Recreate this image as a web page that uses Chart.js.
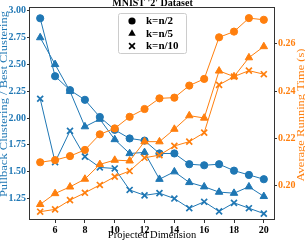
<!DOCTYPE html>
<html><head><meta charset="utf-8">
<script src="https://cdn.jsdelivr.net/npm/chart.js@4.4.0/dist/chart.umd.min.js"></script>
<style>html,body{margin:0;padding:0;background:#fff;}</style>
</head><body>
<canvas id="c" width="305" height="242"></canvas>
<script>
// ---- data ----
const dims = [5, 6, 7, 8, 9, 10, 11, 12, 13, 14, 15, 16, 17, 18, 19, 20];
const ratioHalf  = [2.93, 2.39, 2.26, 2.17, 2.01, 1.89, 1.81, 1.79, 1.67, 1.67, 1.57, 1.56, 1.57, 1.51, 1.47, 1.43];
const ratioFifth = [2.75, 2.50, 2.25, 1.92, 1.99, 1.80, 1.67, 1.68, 1.43, 1.50, 1.40, 1.36, 1.31, 1.30, 1.36, 1.27];
const ratioTenth = [2.18, 1.59, 1.88, 1.64, 1.54, 1.53, 1.33, 1.28, 1.30, 1.25, 1.16, 1.22, 1.13, 1.21, 1.16, 1.11];
const timeHalf   = [0.2100, 0.2109, 0.2126, 0.2152, 0.2218, 0.2243, 0.2292, 0.2325, 0.2370, 0.2373, 0.2424, 0.2452, 0.2628, 0.2652, 0.2709, 0.2702];
const timeFifth  = [0.1922, 0.1968, 0.1996, 0.2029, 0.2091, 0.2109, 0.2106, 0.2187, 0.2187, 0.2240, 0.2297, 0.2287, 0.2486, 0.2462, 0.2542, 0.2589];
const timeTenth  = [0.1891, 0.1901, 0.1940, 0.1971, 0.2004, 0.2039, 0.2063, 0.2119, 0.2130, 0.2169, 0.2187, 0.2225, 0.2427, 0.2462, 0.2487, 0.2472];
const seriesLabels = ['k=n/2', 'k=n/5', 'k=n/10'];
const xTicks = [6, 8, 10, 12, 14, 16, 18, 20];
const yTicks = [1.25, 1.50, 1.75, 2.00, 2.25, 2.50, 2.75, 3.00];
const y2Ticks = [0.20, 0.22, 0.24, 0.26];
const titleText = "MNIST '2' Dataset";
const xLabel = 'Projected Dimension';
const yLabel = 'Pullback Clustering / Best Clustering';
const y2Label = 'Average Running Time (s)';

const SERIF = '"Liberation Serif", "DejaVu Serif", serif';
const BLUE = '#1f77b4', ORANGE = '#ff7f0e';
const pts = arr => dims.map((d, i) => ({x: d, y: arr[i]}));
const styles = ['circle', 'triangle', 'crossRot'];
const radii = [3.6, 4.3, 4.2];

function ds(arr, i, color, axis, order) {
  return {
    label: seriesLabels[i], data: pts(arr), yAxisID: axis, order: order,
    borderColor: color, backgroundColor: color, borderWidth: 1,
    pointStyle: styles[i], pointRadius: radii[i],
    pointBorderWidth: styles[i] === 'crossRot' ? 1.7 : 1,
    pointBackgroundColor: color, pointBorderColor: color,
    tension: 0, fill: false
  };
}

const boxPlugin = {
  id: 'box',
  afterDatasetsDraw(chart) {
    const {ctx, chartArea: a} = chart;
    ctx.save();
    ctx.strokeStyle = '#333'; ctx.lineWidth = 1;
    ctx.strokeRect(Math.round(a.left) + 0.5, Math.round(a.top) + 0.5,
                   Math.round(a.right - a.left) - 1, Math.round(a.bottom - a.top) - 1);
    ctx.restore();
  }
};

// vertical axis titles (stretched along text direction like the reference)
function vText(ctx, text, x, y, color, rot) {
  ctx.save();
  ctx.translate(x, y);
  ctx.rotate(rot);
  ctx.scale(1.17, 1);
  ctx.font = '10.7px ' + SERIF;
  ctx.fillStyle = color;
  ctx.textAlign = 'center'; ctx.textBaseline = 'middle';
  ctx.fillText(text, 0, 0);
  ctx.restore();
}
const sideTitles = {
  id: 'sideTitles',
  afterDraw(chart) {
    const {ctx} = chart;
    vText(ctx, yLabel, 4, 104, BLUE, -Math.PI / 2);
    vText(ctx, y2Label, 301, 115, ORANGE, -Math.PI / 2);
  }
};

const legendPlugin = {
  id: 'customLegend',
  afterDraw(chart) {
    const {ctx} = chart;
    ctx.save();
    const bx = 118.5, by = 13.5, bw = 68, bh = 40, r = 2;
    ctx.beginPath();
    ctx.moveTo(bx + r, by); ctx.lineTo(bx + bw - r, by); ctx.arcTo(bx + bw, by, bx + bw, by + r, r);
    ctx.lineTo(bx + bw, by + bh - r); ctx.arcTo(bx + bw, by + bh, bx + bw - r, by + bh, r);
    ctx.lineTo(bx + r, by + bh); ctx.arcTo(bx, by + bh, bx, by + bh - r, r);
    ctx.lineTo(bx, by + r); ctx.arcTo(bx, by, bx + r, by, r); ctx.closePath();
    ctx.fillStyle = 'rgba(255,255,255,0.85)'; ctx.fill();
    ctx.strokeStyle = '#cccccc'; ctx.lineWidth = 1; ctx.stroke();
    const rows = [21, 33.5, 46];
    ctx.fillStyle = '#000'; ctx.strokeStyle = '#000';
    ctx.beginPath(); ctx.arc(132, rows[0], 3.6, 0, Math.PI * 2); ctx.fill();
    const t = 4.3;
    ctx.beginPath();
    ctx.moveTo(132, rows[1] - t); ctx.lineTo(132 + t * 0.866, rows[1] + t * 0.5); ctx.lineTo(132 - t * 0.866, rows[1] + t * 0.5);
    ctx.closePath(); ctx.fill();
    ctx.lineWidth = 1.7; const c = 2.9;
    ctx.beginPath();
    ctx.moveTo(132 - c, rows[2] - c); ctx.lineTo(132 + c, rows[2] + c);
    ctx.moveTo(132 + c, rows[2] - c); ctx.lineTo(132 - c, rows[2] + c);
    ctx.stroke();
    ctx.font = 'bold 11px ' + SERIF;
    ctx.textAlign = 'left'; ctx.textBaseline = 'middle';
    seriesLabels.forEach((l, i) => ctx.fillText(l, 146, rows[i] + 0.5));
    ctx.restore();
  }
};

const tickFont = {family: SERIF, size: 10, weight: 'bold'};
const setTicks = vals => axis => { axis.ticks = vals.map(v => ({value: v})); };

new Chart(document.getElementById('c'), {
  type: 'line',
  data: {
    datasets: [
      ds(ratioHalf, 0, BLUE, 'y', 2), ds(ratioFifth, 1, BLUE, 'y', 2), ds(ratioTenth, 2, BLUE, 'y', 2),
      ds(timeHalf, 0, ORANGE, 'y2', 1), ds(timeFifth, 1, ORANGE, 'y2', 1), ds(timeTenth, 2, ORANGE, 'y2', 1)
    ]
  },
  options: {
    responsive: false, animation: false, devicePixelRatio: 1,
    layout: {padding: 0},
    plugins: {
      legend: {display: false}, tooltip: {enabled: false},
      title: {display: true, text: titleText, color: '#000',
              font: {family: SERIF, size: 10, weight: 'bold'}, padding: {top: -3, bottom: -2}}
    },
    scales: {
      x: {
        type: 'linear', min: 4.25, max: 20.75,
        afterBuildTicks: setTicks(xTicks),
        afterFit: s => { s.height = 22; },
        ticks: {font: tickFont, color: '#000', padding: 1, maxRotation: 0, autoSkip: false},
        grid: {drawOnChartArea: false, drawTicks: true, tickLength: 3, color: '#333'},
        border: {display: false},
        title: {display: true, text: xLabel, color: '#000', font: {family: SERIF, size: 10.5}, padding: {top: 0, bottom: 0}}
      },
      y: {
        type: 'linear', position: 'left', min: 1.05, max: 3.035,
        afterBuildTicks: setTicks(yTicks),
        afterFit: s => { s.width = 29; },
        ticks: {font: tickFont, color: BLUE, padding: 1, callback: v => v.toFixed(2)},
        grid: {drawOnChartArea: false, drawTicks: true, tickLength: 2, color: '#333'},
        border: {display: false}
      },
      y2: {
        type: 'linear', position: 'right', min: 0.1856, max: 0.2756,
        afterBuildTicks: setTicks(y2Ticks),
        afterFit: s => { s.width = 30; },
        ticks: {font: tickFont, color: ORANGE, padding: 1, callback: v => v.toFixed(2)},
        grid: {drawOnChartArea: false, drawTicks: true, tickLength: 2, color: '#333'},
        border: {display: false}
      }
    }
  },
  plugins: [boxPlugin, sideTitles, legendPlugin]
});
</script>
</body></html>
